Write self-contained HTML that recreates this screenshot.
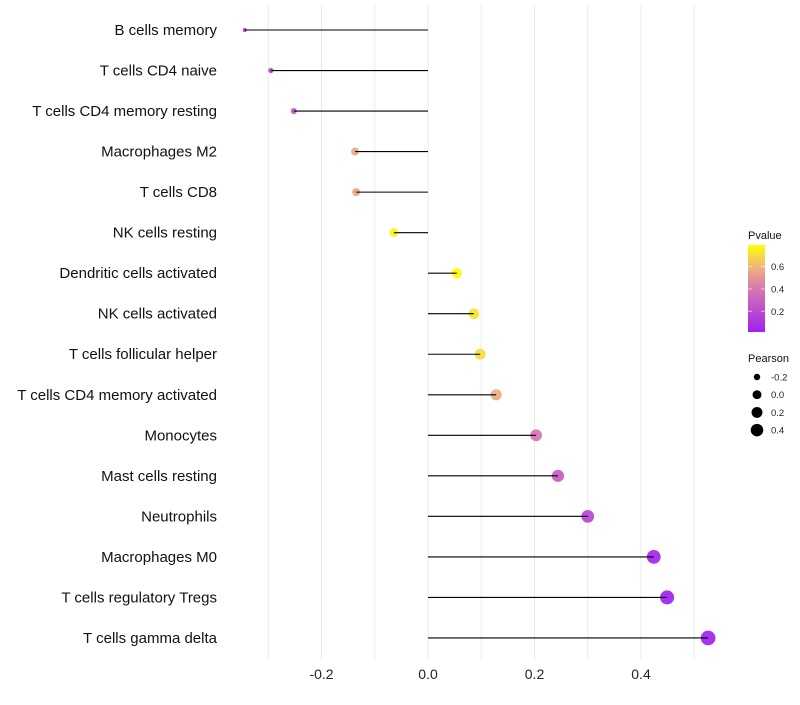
<!DOCTYPE html>
<html><head><meta charset="utf-8"><style>
body{margin:0;background:#fff;font-family:"Liberation Sans",sans-serif}
</style></head><body>
<svg id="c" width="800" height="700" xmlns="http://www.w3.org/2000/svg" font-family="Liberation Sans, sans-serif"></svg>
<script>
const categories=["B cells memory","T cells CD4 naive","T cells CD4 memory resting","Macrophages M2","T cells CD8","NK cells resting","Dendritic cells activated","NK cells activated","T cells follicular helper","T cells CD4 memory activated","Monocytes","Mast cells resting","Neutrophils","Macrophages M0","T cells regulatory  Tregs","T cells gamma delta"];
const pearson=[-0.344,-0.295,-0.252,-0.137,-0.135,-0.064,0.054,0.086,0.098,0.128,0.203,0.244,0.300,0.424,0.449,0.526];
const pvalues=[0.08,0.15,0.25,0.55,0.55,0.76,0.79,0.72,0.70,0.58,0.38,0.28,0.18,0.03,0.02,0.02];
const xTicks=[-0.2,0.0,0.2,0.4];
const xTickLabels=["-0.2","0.0","0.2","0.4"];
const pTicks=[0.2,0.4,0.6];
const sizeTicks=[-0.2,0.0,0.2,0.4];

const svg=document.getElementById('c');const NS="http://www.w3.org/2000/svg";
function mk(t,a,p){const e=document.createElementNS(NS,t);for(const k in a)e.setAttribute(k,a[k]);(p||svg).appendChild(e);return e;}
const x=v=>428+v*532.5;
const y=i=>30+i*40.53;
const r=v=>Math.sqrt(Math.max(3,4+57*(v+0.344)));
const pMin=0.014,pMax=0.795;
const stops=[[0,[160,32,240]],[0.5,[214,122,174]],[0.75,[240,180,125]],[1,[255,255,0]]];
function col(p){let t=Math.min(1,Math.max(0,(p-pMin)/(pMax-pMin)));for(let i=1;i<stops.length;i++){if(t<=stops[i][0]){const a=stops[i-1],b=stops[i];const f=(t-a[0])/(b[0]-a[0]);return 'rgb('+a[1].map((c,k)=>Math.round(c+(b[1][k]-c)*f)).join(',')+')';}}return 'rgb(255,255,0)';}
// grid
for(let v=-0.3;v<=0.51;v+=0.1){const g=mk('line',{x1:x(v),x2:x(v),y1:5,y2:660,stroke:'#ebebeb','stroke-width':1});}
// x ticks
xTicks.forEach((v,i)=>{const t=mk('text',{x:x(v),y:679,'text-anchor':'middle','font-size':14,fill:'#222'});t.textContent=xTickLabels[i];});
categories.forEach((c,i)=>{
 const t=mk('text',{x:217,y:y(i)+5,'text-anchor':'end','font-size':15,fill:'#111'});t.textContent=c;
 
 const d=mk('circle',{cx:x(pearson[i]),cy:y(i),r:r(pearson[i]),fill:col(pvalues[i]),'fill-opacity':0.92});
 
 const l=mk('line',{x1:x(0),x2:x(pearson[i]),y1:y(i),y2:y(i),stroke:'#000','stroke-width':1.1});
 
});
// color legend
const defs=mk('defs',{});const lg=mk('linearGradient',{id:'pg',x1:0,y1:1,x2:0,y2:0},defs);
for(let k=0;k<=10;k++){mk('stop',{offset:k/10,'stop-color':col(pMin+(pMax-pMin)*k/10)},lg);}
const tt=mk('text',{x:748,y:239,'font-size':11,fill:'#111'});tt.textContent='Pvalue';
const bar=mk('rect',{x:748,y:245,width:17,height:87,fill:'url(#pg)'});
const py=p=>332-(p-pMin)/(pMax-pMin)*87;
pTicks.forEach(p=>{mk('line',{x1:748,x2:752,y1:py(p),y2:py(p),stroke:'#fff','stroke-opacity':0.6});mk('line',{x1:761,x2:765,y1:py(p),y2:py(p),stroke:'#fff','stroke-opacity':0.6});
 const t=mk('text',{x:771,y:py(p)+3.5,'font-size':9.5,fill:'#222'});t.textContent=p.toFixed(1);});
const st=mk('text',{x:748,y:362,'font-size':11,fill:'#111'});st.textContent='Pearson';
sizeTicks.forEach((v,i)=>{const cy=377+i*17.7;const c=mk('circle',{cx:757,cy:cy,r:r(v)*0.92,fill:'#000'});
 const t=mk('text',{x:771,y:cy+3.5,'font-size':9.5,fill:'#222'});t.textContent=v.toFixed(1);});
</script>
</body></html>
